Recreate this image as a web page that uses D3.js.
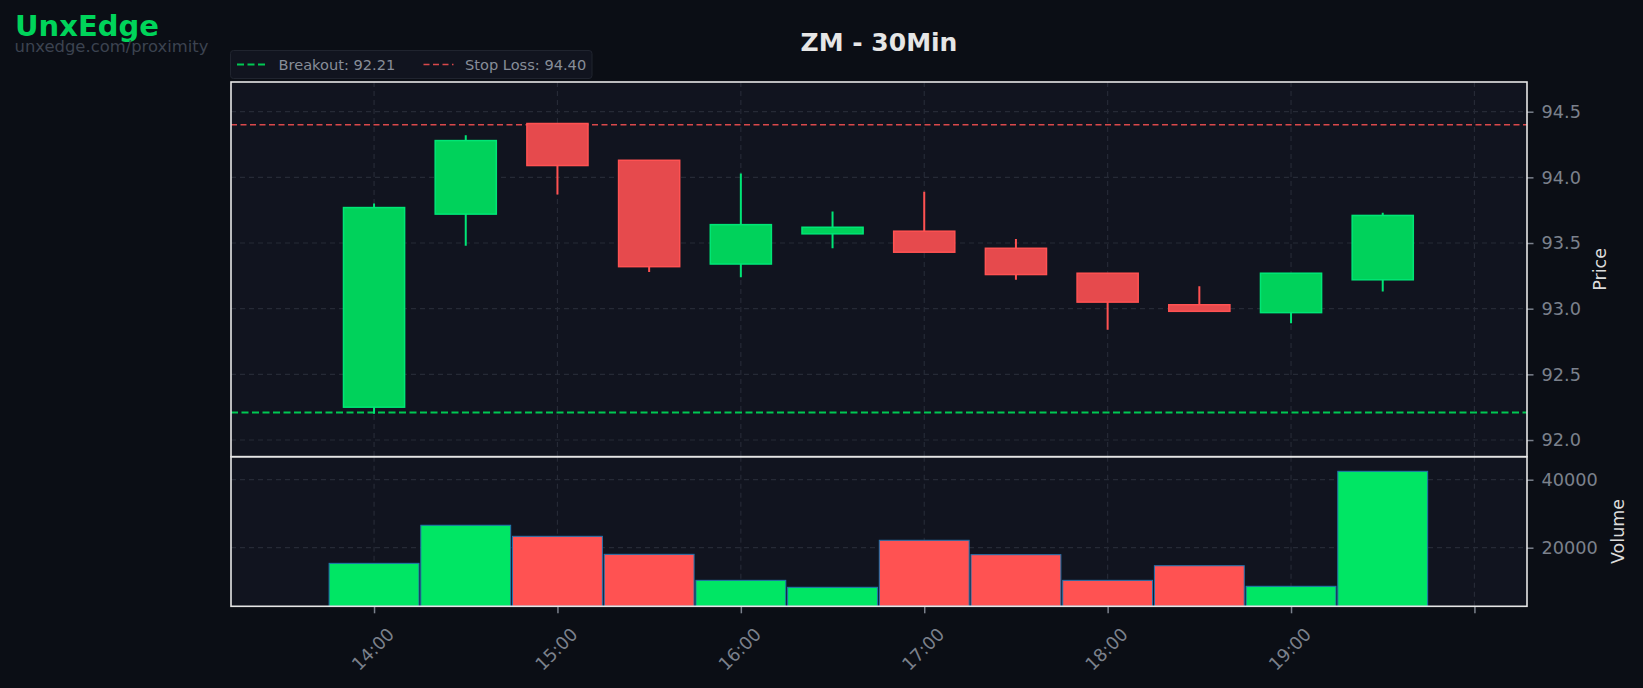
<!DOCTYPE html>
<html>
<head>
  <meta charset="utf-8">
  <title>ZM - 30Min</title>
  <script src="https://d3js.org/d3.v7.min.js"></script>
  <style>
    body { margin: 0; background: #0b0e15; }
    text { font-family: "DejaVu Sans", sans-serif; }
  </style>
</head>
<body>
  <div id="chart"></div>
  <script>
    // 30 min candles
    var times  = ["14:00", "14:30", "15:00", "15:30", "16:00", "16:30", "17:00", "17:30", "18:00", "18:30", "19:00", "19:30"];
    var open   = [92.25, 93.72, 94.41, 94.13, 93.34, 93.57, 93.59, 93.46, 93.27, 93.03, 92.97, 93.22];
    var high   = [93.80, 94.32, 94.41, 94.13, 94.03, 93.74, 93.89, 93.53, 93.27, 93.17, 93.27, 93.73];
    var low    = [92.20, 93.48, 93.87, 93.28, 93.24, 93.46, 93.43, 93.22, 92.84, 92.98, 92.89, 93.13];
    var close  = [93.77, 94.28, 94.09, 93.32, 93.64, 93.62, 93.43, 93.26, 93.05, 92.98, 93.27, 93.71];
    var volume = [15400, 26600, 23350, 18050, 10400, 8350, 22180, 17950, 10400, 14700, 8650, 42470];

    // axis ticks
    var hourTicks   = ["14:00", "15:00", "16:00", "17:00", "18:00", "19:00", "20:00"];
    var hourLabels  = ["14:00", "15:00", "16:00", "17:00", "18:00", "19:00", ""];
    var priceTicks  = [92.0, 92.5, 93.0, 93.5, 94.0, 94.5];
    var volumeTicks = [20000, 40000];

    var breakout = 92.21, stopLoss = 94.40;

    var W = 1643, H = 688;
    var left = 231, right = 1527, priceTop = 82, priceBottom = 456.7, volBottom = 606.3;

    var day = "2024-05-06 ";
    var parseTime = d3.timeParse("%Y-%m-%d %H:%M:%S");
    function t(s) { return parseTime(day + (s.length == 5 ? s + ":00" : s)); }

    var data = times.map(function (d, i) {
      return { t: t(d), o: open[i], h: high[i], l: low[i], c: close[i], v: volume[i] };
    });

    var svg = d3.select("#chart").append("svg")
      .attr("width", W)
      .attr("height", H);

    svg.append("rect").attr("width", W).attr("height", H).attr("fill", "#0b0e15");

    var x = d3.scaleTime()
      .domain([t("13:13:12"), t("20:17:12")])
      .range([left, right]);

    var y = d3.scaleLinear()
      .domain([91.873, 94.726])
      .range([priceBottom, priceTop]);

    var yv = d3.scaleLinear()
      .domain([2765, 46765])
      .range([volBottom, priceBottom]);

    // panel backgrounds
    svg.append("rect").attr("x", left).attr("y", priceTop)
      .attr("width", right - left).attr("height", volBottom - priceTop)
      .attr("fill", "#11141f");

    var defs = svg.append("defs");
    defs.append("clipPath").attr("id", "clipP").append("rect")
      .attr("x", left).attr("y", priceTop).attr("width", right - left).attr("height", priceBottom - priceTop);
    defs.append("clipPath").attr("id", "clipV").append("rect")
      .attr("x", left).attr("y", priceBottom).attr("width", right - left).attr("height", volBottom - priceBottom);

    var gridColor = "#262a36";

    // grid
    var gp = svg.append("g").attr("clip-path", "url(#clipP)");
    gp.selectAll(".hg").data(priceTicks).enter().append("line")
      .attr("x1", left).attr("x2", right)
      .attr("y1", function (d) { return y(d); }).attr("y2", function (d) { return y(d); })
      .attr("stroke", gridColor).attr("stroke-width", 1.2).attr("stroke-dasharray", "5,4");
    gp.selectAll(".vg").data(hourTicks).enter().append("line")
      .attr("x1", function (d) { return x(t(d)); }).attr("x2", function (d) { return x(t(d)); })
      .attr("y1", priceTop).attr("y2", priceBottom)
      .attr("stroke", gridColor).attr("stroke-width", 1.2).attr("stroke-dasharray", "5,4");

    var gv = svg.append("g").attr("clip-path", "url(#clipV)");
    gv.selectAll(".hg").data(volumeTicks).enter().append("line")
      .attr("x1", left).attr("x2", right)
      .attr("y1", function (d) { return yv(d); }).attr("y2", function (d) { return yv(d); })
      .attr("stroke", gridColor).attr("stroke-width", 1.2).attr("stroke-dasharray", "5,4");
    gv.selectAll(".vg").data(hourTicks).enter().append("line")
      .attr("x1", function (d) { return x(t(d)); }).attr("x2", function (d) { return x(t(d)); })
      .attr("y1", priceBottom).attr("y2", volBottom)
      .attr("stroke", gridColor).attr("stroke-width", 1.2).attr("stroke-dasharray", "5,4");

    // breakout / stop loss
    gp.append("line")
      .attr("x1", left).attr("x2", right).attr("y1", y(breakout)).attr("y2", y(breakout))
      .attr("stroke", "#00c853").attr("stroke-width", 2).attr("stroke-dasharray", "7,3.5");
    gp.append("line")
      .attr("x1", left).attr("x2", right).attr("y1", y(stopLoss)).attr("y2", y(stopLoss))
      .attr("stroke", "#d9484b").attr("stroke-width", 1.6).attr("stroke-dasharray", "6,3.5");

    // candles
    var up = function (d) { return d.c >= d.o; };
    var bodyHalf = 10 * 60000; // 20 min body
    var candles = gp.selectAll(".candle").data(data).enter().append("g");

    candles.append("line")
      .attr("x1", function (d) { return x(d.t); })
      .attr("x2", function (d) { return x(d.t); })
      .attr("y1", function (d) { return y(d.h); })
      .attr("y2", function (d) { return y(d.l); })
      .attr("stroke", function (d) { return up(d) ? "#00e676" : "#ff5252"; })
      .attr("stroke-width", 2);

    candles.append("rect")
      .attr("x", function (d) { return x(new Date(+d.t - bodyHalf)); })
      .attr("width", function (d) { return x(new Date(+d.t + bodyHalf)) - x(new Date(+d.t - bodyHalf)); })
      .attr("y", function (d) { return y(Math.max(d.o, d.c)); })
      .attr("height", function (d) { return Math.max(1, Math.abs(y(d.o) - y(d.c))); })
      .attr("fill", function (d) { return up(d) ? "#00d25b" : "#e64a4d"; })
      .attr("stroke", function (d) { return up(d) ? "#00e676" : "#ff5252"; })
      .attr("stroke-width", 1.5);

    // volume bars
    var volHalf = 14.7 * 60000;
    gv.selectAll(".vol").data(data).enter().append("rect")
      .attr("x", function (d) { return x(new Date(+d.t - volHalf)); })
      .attr("width", function (d) { return x(new Date(+d.t + volHalf)) - x(new Date(+d.t - volHalf)); })
      .attr("y", function (d) { return yv(d.v); })
      .attr("height", function (d) { return volBottom - yv(d.v); })
      .attr("fill", function (d) { return up(d) ? "#00e664" : "#ff5252"; })
      .attr("stroke", "#2274b0")
      .attr("stroke-width", 1);

    // axes
    var tickColor = "#7b818c";

    var yAxis = svg.append("g")
      .attr("transform", "translate(" + right + ",0)")
      .call(d3.axisRight(y).tickValues(priceTicks).tickFormat(d3.format(".1f")).tickSize(6.5).tickPadding(8));
    var vAxis = svg.append("g")
      .attr("transform", "translate(" + right + ",0)")
      .call(d3.axisRight(yv).tickValues(volumeTicks).tickFormat(d3.format("d")).tickSize(6.5).tickPadding(8));
    var xAxis = svg.append("g")
      .attr("transform", "translate(0," + volBottom + ")")
      .call(d3.axisBottom(x).tickValues(hourTicks.map(t)).tickSize(7)
        .tickFormat(function (d, i) { return hourLabels[i]; }));

    [yAxis, vAxis, xAxis].forEach(function (a) {
      a.select(".domain").remove();
      a.selectAll(".tick line").attr("stroke", tickColor).attr("stroke-width", 1.5);
      a.selectAll(".tick text").attr("fill", tickColor).attr("font-size", "17.7px")
        .attr("font-family", "DejaVu Sans");
    });

    xAxis.selectAll(".tick text")
      .attr("y", 0).attr("dy", null)
      .attr("text-anchor", "middle")
      .attr("dominant-baseline", "central")
      .attr("transform", "translate(-1.5,43) rotate(-45)");

    // spines
    svg.append("rect").attr("x", left).attr("y", priceTop)
      .attr("width", right - left).attr("height", priceBottom - priceTop)
      .attr("fill", "none").attr("stroke", "#e6e6e6").attr("stroke-width", 1.6);
    svg.append("rect").attr("x", left).attr("y", priceBottom)
      .attr("width", right - left).attr("height", volBottom - priceBottom)
      .attr("fill", "none").attr("stroke", "#e6e6e6").attr("stroke-width", 1.6);

    // axis titles
    svg.append("text")
      .attr("transform", "translate(1600," + ((priceTop + priceBottom) / 2) + ") rotate(-90)")
      .attr("text-anchor", "middle").attr("dominant-baseline", "central")
      .attr("font-size", "17.5px").attr("fill", "#dcdcdc")
      .text("Price");
    svg.append("text")
      .attr("transform", "translate(1618," + ((priceBottom + volBottom) / 2) + ") rotate(-90)")
      .attr("text-anchor", "middle").attr("dominant-baseline", "central")
      .attr("font-size", "17.5px").attr("fill", "#dcdcdc")
      .text("Volume");

    // title
    svg.append("text")
      .attr("x", (left + right) / 2).attr("y", 51)
      .attr("text-anchor", "middle")
      .attr("font-size", "25px").attr("font-weight", "bold").attr("fill", "#e6e6e6")
      .text("ZM - 30Min");

    // branding
    svg.append("text")
      .attr("x", 15).attr("y", 36)
      .attr("font-size", "29px").attr("font-weight", "bold").attr("fill", "#00d45a")
      .text("UnxEdge");
    svg.append("text")
      .attr("x", 14.5).attr("y", 52)
      .attr("font-size", "16.4px").attr("fill", "#3c4350")
      .text("unxedge.com/proximity");

    // legend
    var lg = svg.append("g");
    lg.append("rect")
      .attr("x", 230.5).attr("y", 50.5).attr("width", 361.5).attr("height", 28).attr("rx", 3)
      .attr("fill", "#11141f").attr("stroke", "#20242f").attr("stroke-width", 1);
    lg.append("line").attr("x1", 237).attr("x2", 267).attr("y1", 64.5).attr("y2", 64.5)
      .attr("stroke", "#00c853").attr("stroke-width", 2).attr("stroke-dasharray", "7,3.5");
    lg.append("text").attr("x", 278.5).attr("y", 64.5).attr("dominant-baseline", "central")
      .attr("font-size", "14.6px").attr("fill", "#878d98")
      .text("Breakout: " + breakout.toFixed(2));
    lg.append("line").attr("x1", 423.5).attr("x2", 453.5).attr("y1", 64.5).attr("y2", 64.5)
      .attr("stroke", "#d9484b").attr("stroke-width", 1.6).attr("stroke-dasharray", "6,3.5");
    lg.append("text").attr("x", 465).attr("y", 64.5).attr("dominant-baseline", "central")
      .attr("font-size", "14.6px").attr("fill", "#878d98")
      .text("Stop Loss: " + stopLoss.toFixed(2));
  </script>
</body>
</html>
